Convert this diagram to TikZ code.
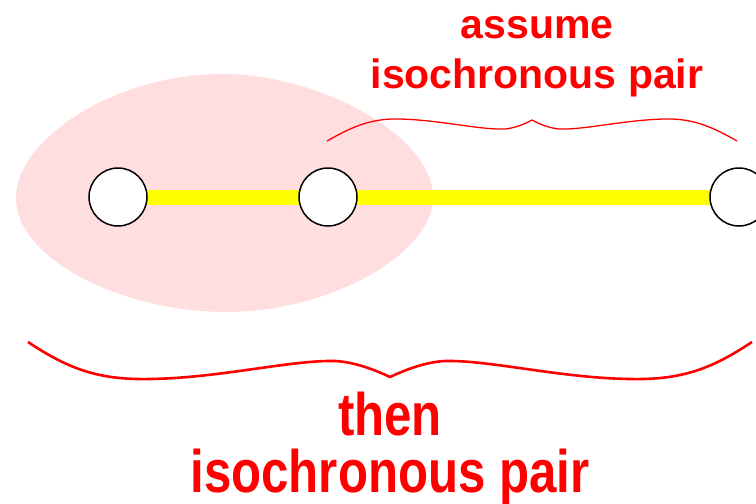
\documentclass[tikz,border=0pt]{standalone}
\usepackage{fontspec}
\setmainfont{Liberation Sans}
\newfontfamily\narrowfont[FakeStretch=0.82]{Liberation Sans}
\usetikzlibrary{backgrounds}
\definecolor{blobpink}{RGB}{255,222,224}
\definecolor{lineyellow}{RGB}{255,255,0}
\definecolor{labelred}{RGB}{255,0,0}
\tikzset{
  vertex/.style={circle, draw=black, line width=1.5pt, fill=white, minimum size=58pt, inner sep=0pt},
  edgeline/.style={draw=lineyellow, line width=15pt},
  blob/.style={fill=blobpink, draw=none},
  topbrace/.style={draw=labelred, line width=1.3pt, line join=round},
  botbrace/.style={draw=labelred, line width=2.6pt, line join=round},
  toplabel/.style={text=labelred, font=\fontsize{41}{48}\selectfont\bfseries, anchor=base, inner sep=0pt},
  botlabel/.style={text=labelred, font=\narrowfont\fontsize{60}{60}\selectfont\bfseries, anchor=base, inner sep=0pt}
}
\begin{document}
\begin{tikzpicture}[x=1pt,y=-1pt]
\useasboundingbox (0,0) rectangle (756,504);
\clip (0,0) rectangle (756,504);
% vertices
\node[vertex] (n1) at (118,197) {};
\node[vertex] (n2) at (328,197) {};
\node[vertex] (n3) at (739,197) {};
\begin{scope}[on background layer]
  \path[blob] (16,198) .. controls (16,140) and (113,74) .. (223,74)
    .. controls (318,74) and (433,135) .. (433,197)
    .. controls (433,255) and (328,312) .. (227,312)
    .. controls (120,312) and (16,258) .. (16,198) -- cycle;
  \draw[edgeline] (n1.center) -- (n2.center);
  \draw[edgeline] (n2.center) -- (n3.center);
\end{scope}
% top brace
\draw[topbrace] (327,141) .. controls (350,128) and (370,118) .. (400,119)
  .. controls (440,120) and (480,130) .. (505,129)
  .. controls (515,128) and (525,124) .. (532,120)
  .. controls (539,124) and (549,128) .. (559,129)
  .. controls (584,130) and (624,120) .. (664,119)
  .. controls (694,118) and (714,128) .. (737,141);
% bottom brace
\draw[botbrace] (28,342) .. controls (70,370) and (100,380) .. (150,379)
  .. controls (220,378) and (290,360) .. (335,361)
  .. controls (355,362) and (375,370) .. (390,377)
  .. controls (405,370) and (425,362) .. (445,361)
  .. controls (490,360) and (560,378) .. (630,379)
  .. controls (680,380) and (710,370) .. (752,342);
% labels
\node[toplabel] (t1) at (537,38) {assume};
\node[toplabel] (t2) at (537,88) {isochronous pair};
\node[botlabel] (b1) at (390,435) {then};
\node[botlabel] (b2) at (390,492) {isochronous pair};
\end{tikzpicture}
\end{document}
